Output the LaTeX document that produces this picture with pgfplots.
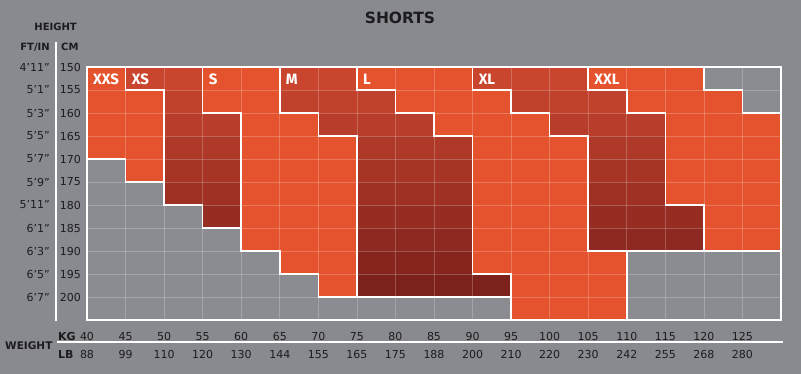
\documentclass[border=0pt]{standalone}
\usepackage{pgfplots}
\pgfplotsset{compat=1.18}
\usepackage{fontspec}
\setmainfont{DejaVu Sans}
\newfontfamily\fira{Fira Sans}
\definecolor{bg}{RGB}{137,138,144}
\definecolor{txt}{RGB}{28,28,31}
\begin{document}
\begin{tikzpicture}
\fill[bg] (0pt,0pt) rectangle (801pt,-374pt);
\node[anchor=base, inner sep=0, text=txt, font=\bfseries\fontsize{15.5}{15.5}\selectfont] at (400pt,-24pt) {SHORTS};
\node[anchor=base east, inner sep=0, text=txt, font=\bfseries\fontsize{10}{10}\selectfont] at (77pt,-31pt) {HEIGHT};
\node[anchor=base east, inner sep=0, text=txt, font=\bfseries\fontsize{10}{10}\selectfont] at (50pt,-51pt) {FT/IN};
\node[anchor=base west, inner sep=0, text=txt, font=\bfseries\fontsize{10}{10}\selectfont] at (61pt,-51pt) {CM};
\node[anchor=base west, inner sep=0, text=txt, font=\bfseries\fontsize{10.5}{10.5}\selectfont] at (5pt,-349pt) {WEIGHT};
\node[anchor=base west, inner sep=0, text=txt, font=\bfseries\fontsize{11}{11}\selectfont] at (58pt,-340pt) {KG};
\node[anchor=base west, inner sep=0, text=txt, font=\bfseries\fontsize{11}{11}\selectfont] at (58pt,-358pt) {LB};
\draw[white, line width=1.5pt] (56pt,-42pt) -- (56pt,-321pt);
\draw[white, line width=1.5pt] (57pt,-342pt) -- (783pt,-342pt);
\begin{axis}[
  at={(87pt,-67pt)}, anchor=north west,
  scale only axis, width=694pt, height=253pt,
  xmin=40, xmax=130, ymin=150, ymax=205, y dir=reverse,
  enlargelimits=false,
  axis on top,
  axis line style={white, line width=1.6pt},
  major tick length=0pt,
  grid=major,
  major grid style={white, opacity=0.22, line width=0.6pt},
  xtick={40,45,...,125},
  xticklabels={40,45,50,55,60,65,70,75,80,85,90,95,100,105,110,115,120,125},
  extra x ticks={40,45,...,125},
  extra x tick labels={88,99,110,120,130,144,155,165,175,188,200,210,220,230,242,255,268,280},
  extra x tick style={grid=none, xticklabel style={yshift=-18pt}},
  xticklabel style={anchor=base, inner sep=0pt, yshift=-20pt, text=txt, font=\fontsize{11}{11}\selectfont},
  ytick={150,155,...,200},
  yticklabels={150,155,160,165,170,175,180,185,190,195,200},
  extra y ticks={150,155,...,200},
  extra y tick labels={4’11”,5’1”,5’3”,5’5”,5’7”,5’9”,5’11”,6’1”,6’3”,6’5”,6’7”},
  extra y tick style={grid=none, yticklabel style={xshift=-31pt}},
  yticklabel style={anchor=east, inner sep=0pt, xshift=-6pt, text=txt, font=\fontsize{11}{11}\selectfont},
  colormap={sizes}{rgb255=(139,140,146) rgb255=(229,83,46)
    rgb255=(201,69,46) rgb255=(192,65,44) rgb255=(184,61,42) rgb255=(175,57,40)
    rgb255=(167,53,38) rgb255=(158,49,36) rgb255=(150,45,34) rgb255=(141,41,32)
    rgb255=(133,37,30) rgb255=(124,33,28) rgb255=(116,29,26)},
  colormap access=direct,
  clip=false,
  bd/.style={white, line width=1.6pt, line cap=rect, line join=miter, no marks, forget plot},
]
\addplot[matrix plot*, mesh/cols=18, point meta=explicit] coordinates {
(42.5,152.5)[1] (47.5,152.5)[2] (52.5,152.5)[2] (57.5,152.5)[1] (62.5,152.5)[1] (67.5,152.5)[2] (72.5,152.5)[2] (77.5,152.5)[1] (82.5,152.5)[1] (87.5,152.5)[1] (92.5,152.5)[2] (97.5,152.5)[2] (102.5,152.5)[2] (107.5,152.5)[1] (112.5,152.5)[1] (117.5,152.5)[1] (122.5,152.5)[0] (127.5,152.5)[0]

(42.5,157.5)[1] (47.5,157.5)[1] (52.5,157.5)[3] (57.5,157.5)[1] (62.5,157.5)[1] (67.5,157.5)[3] (72.5,157.5)[3] (77.5,157.5)[3] (82.5,157.5)[1] (87.5,157.5)[1] (92.5,157.5)[1] (97.5,157.5)[3] (102.5,157.5)[3] (107.5,157.5)[3] (112.5,157.5)[1] (117.5,157.5)[1] (122.5,157.5)[1] (127.5,157.5)[0]

(42.5,162.5)[1] (47.5,162.5)[1] (52.5,162.5)[4] (57.5,162.5)[4] (62.5,162.5)[1] (67.5,162.5)[1] (72.5,162.5)[4] (77.5,162.5)[4] (82.5,162.5)[4] (87.5,162.5)[1] (92.5,162.5)[1] (97.5,162.5)[1] (102.5,162.5)[4] (107.5,162.5)[4] (112.5,162.5)[4] (117.5,162.5)[1] (122.5,162.5)[1] (127.5,162.5)[1]

(42.5,167.5)[1] (47.5,167.5)[1] (52.5,167.5)[5] (57.5,167.5)[5] (62.5,167.5)[1] (67.5,167.5)[1] (72.5,167.5)[1] (77.5,167.5)[5] (82.5,167.5)[5] (87.5,167.5)[5] (92.5,167.5)[1] (97.5,167.5)[1] (102.5,167.5)[1] (107.5,167.5)[5] (112.5,167.5)[5] (117.5,167.5)[1] (122.5,167.5)[1] (127.5,167.5)[1]

(42.5,172.5)[0] (47.5,172.5)[1] (52.5,172.5)[6] (57.5,172.5)[6] (62.5,172.5)[1] (67.5,172.5)[1] (72.5,172.5)[1] (77.5,172.5)[6] (82.5,172.5)[6] (87.5,172.5)[6] (92.5,172.5)[1] (97.5,172.5)[1] (102.5,172.5)[1] (107.5,172.5)[6] (112.5,172.5)[6] (117.5,172.5)[1] (122.5,172.5)[1] (127.5,172.5)[1]

(42.5,177.5)[0] (47.5,177.5)[0] (52.5,177.5)[7] (57.5,177.5)[7] (62.5,177.5)[1] (67.5,177.5)[1] (72.5,177.5)[1] (77.5,177.5)[7] (82.5,177.5)[7] (87.5,177.5)[7] (92.5,177.5)[1] (97.5,177.5)[1] (102.5,177.5)[1] (107.5,177.5)[7] (112.5,177.5)[7] (117.5,177.5)[1] (122.5,177.5)[1] (127.5,177.5)[1]

(42.5,182.5)[0] (47.5,182.5)[0] (52.5,182.5)[0] (57.5,182.5)[8] (62.5,182.5)[1] (67.5,182.5)[1] (72.5,182.5)[1] (77.5,182.5)[8] (82.5,182.5)[8] (87.5,182.5)[8] (92.5,182.5)[1] (97.5,182.5)[1] (102.5,182.5)[1] (107.5,182.5)[8] (112.5,182.5)[8] (117.5,182.5)[8] (122.5,182.5)[1] (127.5,182.5)[1]

(42.5,187.5)[0] (47.5,187.5)[0] (52.5,187.5)[0] (57.5,187.5)[0] (62.5,187.5)[1] (67.5,187.5)[1] (72.5,187.5)[1] (77.5,187.5)[9] (82.5,187.5)[9] (87.5,187.5)[9] (92.5,187.5)[1] (97.5,187.5)[1] (102.5,187.5)[1] (107.5,187.5)[9] (112.5,187.5)[9] (117.5,187.5)[9] (122.5,187.5)[1] (127.5,187.5)[1]

(42.5,192.5)[0] (47.5,192.5)[0] (52.5,192.5)[0] (57.5,192.5)[0] (62.5,192.5)[0] (67.5,192.5)[1] (72.5,192.5)[1] (77.5,192.5)[10] (82.5,192.5)[10] (87.5,192.5)[10] (92.5,192.5)[1] (97.5,192.5)[1] (102.5,192.5)[1] (107.5,192.5)[1] (112.5,192.5)[0] (117.5,192.5)[0] (122.5,192.5)[0] (127.5,192.5)[0]

(42.5,197.5)[0] (47.5,197.5)[0] (52.5,197.5)[0] (57.5,197.5)[0] (62.5,197.5)[0] (67.5,197.5)[0] (72.5,197.5)[1] (77.5,197.5)[11] (82.5,197.5)[11] (87.5,197.5)[11] (92.5,197.5)[11] (97.5,197.5)[1] (102.5,197.5)[1] (107.5,197.5)[1] (112.5,197.5)[0] (117.5,197.5)[0] (122.5,197.5)[0] (127.5,197.5)[0]

(42.5,202.5)[0] (47.5,202.5)[0] (52.5,202.5)[0] (57.5,202.5)[0] (62.5,202.5)[0] (67.5,202.5)[0] (72.5,202.5)[0] (77.5,202.5)[0] (82.5,202.5)[0] (87.5,202.5)[0] (92.5,202.5)[0] (97.5,202.5)[1] (102.5,202.5)[1] (107.5,202.5)[1] (112.5,202.5)[0] (117.5,202.5)[0] (122.5,202.5)[0] (127.5,202.5)[0]
};
\addplot[bd] coordinates {(45,150)(45,155)(50,155)(50,180)(55,180)(55,185)(60,185)(60,190)(65,190)(65,195)(70,195)(70,200)(95,200)(95,205)};
\addplot[bd] coordinates {(40,170)(45,170)(45,175)(50,175)};
\addplot[bd] coordinates {(55,150)(55,160)(60,160)(60,190)};
\addplot[bd] coordinates {(65,150)(65,160)(70,160)(70,165)(75,165)(75,200)};
\addplot[bd] coordinates {(75,150)(75,155)(80,155)(80,160)(85,160)(85,165)(90,165)(90,195)(95,195)(95,200)};
\addplot[bd] coordinates {(90,150)(90,155)(95,155)(95,160)(100,160)(100,165)(105,165)(105,190)(130,190)};
\addplot[bd] coordinates {(110,190)(110,205)};
\addplot[bd] coordinates {(105,150)(105,155)(110,155)(110,160)(115,160)(115,180)(120,180)(120,190)};
\addplot[bd] coordinates {(120,150)(120,155)(125,155)(125,160)(130,160)};
\begin{scope}[every node/.style={anchor=base west, inner sep=0pt, text=white, xshift=6pt, font=\fira\bfseries\fontsize{15}{15}\selectfont}]
\node at (axis cs:40,153.9) {XXS};
\node at (axis cs:45,153.9) {XS};
\node at (axis cs:55,153.9) {S};
\node at (axis cs:65,153.9) {M};
\node at (axis cs:75,153.9) {L};
\node at (axis cs:90,153.9) {XL};
\node at (axis cs:105,153.9) {XXL};
\end{scope}
\end{axis}
\pgfresetboundingbox
\useasboundingbox (0pt,0pt) rectangle (801pt,-374pt);
\end{tikzpicture}
\end{document}
